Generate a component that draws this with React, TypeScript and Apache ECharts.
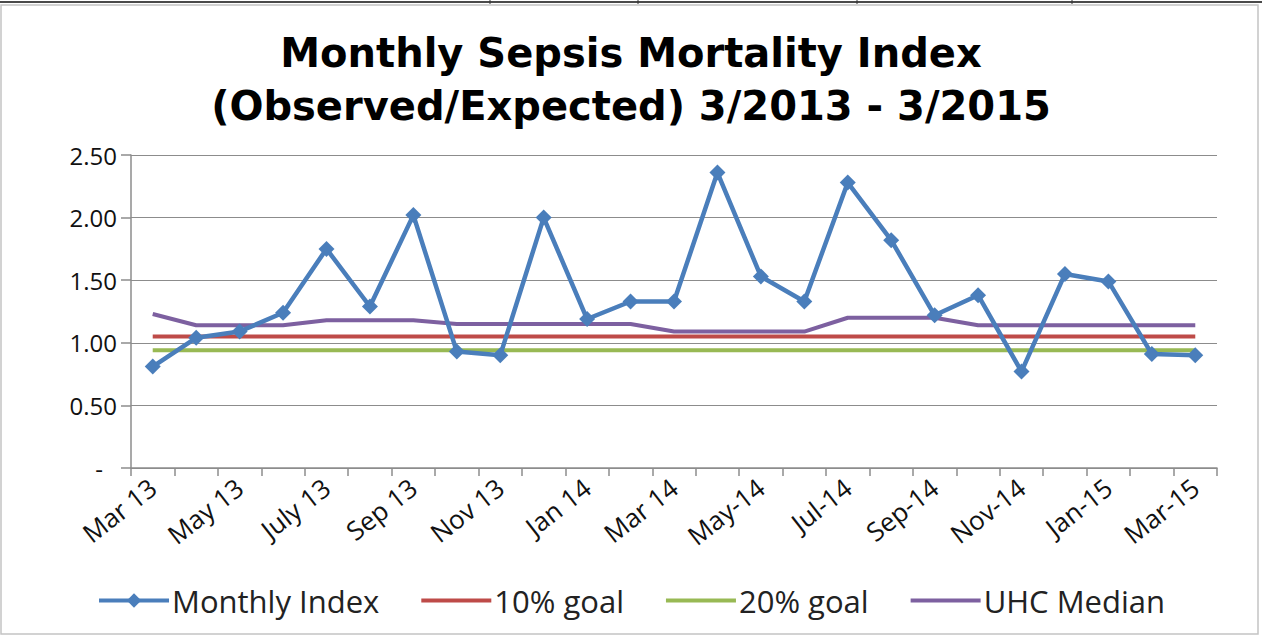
import React, { useEffect, useRef } from "react";
import * as echarts from "echarts";

const categories = [
  "Mar 13", "Apr 13", "May 13", "Jun 13", "July 13", "Aug 13", "Sep 13", "Oct 13", "Nov 13", "Dec 13",
  "Jan 14", "Feb 14", "Mar 14", "Apr-14", "May-14", "Jun-14", "Jul-14", "Aug-14", "Sep-14", "Oct-14",
  "Nov-14", "Dec-14", "Jan-15", "Feb-15", "Mar-15",
];
const monthlyIndex = [
  0.81, 1.04, 1.09, 1.24, 1.75, 1.29, 2.02, 0.93, 0.9, 2.0,
  1.19, 1.33, 1.33, 2.36, 1.53, 1.33, 2.28, 1.82, 1.22, 1.38,
  0.77, 1.55, 1.49, 0.91, 0.9,
];
const goal10 = categories.map(() => 1.05);
const goal20 = categories.map(() => 0.94);
const uhcMedian = [
  1.23, 1.14, 1.14, 1.14, 1.18, 1.18, 1.18, 1.15, 1.15, 1.15,
  1.15, 1.15, 1.09, 1.09, 1.09, 1.09, 1.2, 1.2, 1.2, 1.14,
  1.14, 1.14, 1.14, 1.14, 1.14,
];

const FONT = "'Open Sans', sans-serif";
const TITLE_FONT = "'DejaVu Sans', sans-serif";
const LINE_ICON = "path://M0,0H70V4H0Z";

export default function App() {
  const ref = useRef<HTMLDivElement>(null);
  useEffect(() => {
    if (!ref.current) return;
    const chart = echarts.init(ref.current, undefined, { renderer: "svg" });
    chart.setOption({
      animation: false,
      backgroundColor: "#ffffff",
      title: {
        text: "Monthly Sepsis Mortality Index\n(Observed/Expected) 3/2013 - 3/2015",
        left: "center",
        top: 21,
        textStyle: {
          fontFamily: TITLE_FONT,
          fontWeight: "bold",
          fontSize: 40,
          lineHeight: 53,
          color: "#000000",
        },
      },
      graphic: [
        { type: "rect", shape: { x: 0, y: 1, width: 1262, height: 2 }, style: { fill: "#4a4a4a" } },
        { type: "rect", shape: { x: 1, y: 5, width: 1257, height: 629 }, style: { fill: "none", stroke: "#c4c4c4", lineWidth: 1.5 } },
        { type: "line", shape: { x1: 490, y1: 0, x2: 490, y2: 4 }, style: { stroke: "#333", lineWidth: 1 } },
        { type: "line", shape: { x1: 638, y1: 0, x2: 638, y2: 4 }, style: { stroke: "#333", lineWidth: 1 } },
        { type: "line", shape: { x1: 857, y1: 0, x2: 857, y2: 4 }, style: { stroke: "#333", lineWidth: 1 } },
        { type: "line", shape: { x1: 1072, y1: 0, x2: 1072, y2: 4 }, style: { stroke: "#333", lineWidth: 1 } },
      ],
      legend: {
        bottom: 16,
        left: "center",
        itemWidth: 70,
        itemHeight: 18,
        itemGap: 42,
        symbolKeepAspect: true,
        textStyle: { fontFamily: FONT, fontSize: 31, color: "#222", padding: [0, 0, 0, -2] },
        data: [
          { name: "Monthly Index", lineStyle: { width: 4 } },
          { name: "10% goal", icon: LINE_ICON },
          { name: "20% goal", icon: LINE_ICON },
          { name: "UHC Median", icon: LINE_ICON },
        ],
      },
      grid: { left: 131, right: 45, top: 155, bottom: 169 },
      xAxis: {
        type: "category",
        data: categories,
        boundaryGap: true,
        axisLine: { lineStyle: { color: "#8c8c8c", width: 1.5 } },
        axisTick: { show: true, interval: 0, length: 8, lineStyle: { color: "#8c8c8c", width: 1.5 } },
        axisLabel: {
          interval: 1,
          rotate: 38,
          margin: 16,
          fontFamily: FONT,
          fontSize: 26,
          color: "#111",
        },
      },
      yAxis: {
        type: "value",
        min: 0,
        max: 2.5,
        interval: 0.5,
        axisLine: { show: true, lineStyle: { color: "#8c8c8c", width: 1.5 } },
        axisTick: { show: true, inside: false, length: 10, lineStyle: { color: "#8c8c8c", width: 1.5 } },
        splitLine: { lineStyle: { color: "#8c8c8c", width: 1 } },
        axisLabel: {
          margin: 14,
          fontFamily: FONT,
          fontSize: 24,
          color: "#111",
          formatter: (v: number) => (v === 0 ? "{d|-}" : v.toFixed(2)),
          rich: { d: { fontFamily: FONT, fontSize: 24, color: "#111", padding: [0, 14, 0, 0] } },
        },
      },
      series: [
        {
          name: "Monthly Index",
          type: "line",
          data: monthlyIndex,
          symbol: "diamond",
          symbolSize: 16,
          lineStyle: { color: "#4a7ebb", width: 4.5 },
          itemStyle: { color: "#4a7ebb" },
          z: 5,
        },
        {
          name: "10% goal",
          type: "line",
          data: goal10,
          symbol: "none",
          lineStyle: { color: "#be4b48", width: 4 },
          itemStyle: { color: "#be4b48" },
          z: 3,
        },
        {
          name: "20% goal",
          type: "line",
          data: goal20,
          symbol: "none",
          lineStyle: { color: "#98b954", width: 4 },
          itemStyle: { color: "#98b954" },
          z: 3,
        },
        {
          name: "UHC Median",
          type: "line",
          data: uhcMedian,
          symbol: "none",
          lineStyle: { color: "#7d60a0", width: 4 },
          itemStyle: { color: "#7d60a0" },
          z: 4,
        },
      ],
    });
    return () => chart.dispose();
  }, []);
  return (
    <div
      ref={ref}
      style={{ position: "fixed", left: 0, top: 0, width: 1262, height: 637 }}
    />
  );
}
